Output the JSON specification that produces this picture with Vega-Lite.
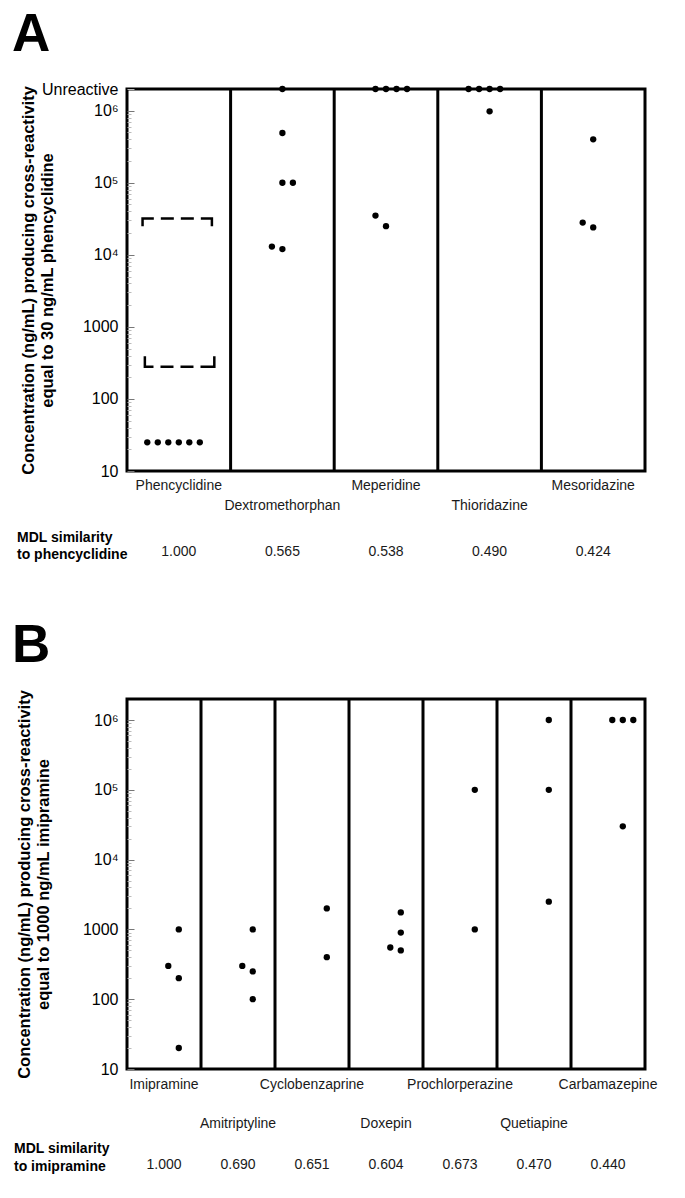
{
  "$schema": "https://vega.github.io/schema/vega-lite/v6.json",
  "padding": {"left": 10, "top": 7, "right": 10, "bottom": 5},
  "config": {
    "font": "Liberation Sans",
    "view": {"stroke": "black", "strokeWidth": 3},
    "concat": {"spacing": 54}
  },
  "datasets": {
    "drugsA": [
      {"drug": "Phencyclidine", "idx": 0, "mdl": 1.000},
      {"drug": "Dextromethorphan", "idx": 1, "mdl": 0.565},
      {"drug": "Meperidine", "idx": 2, "mdl": 0.538},
      {"drug": "Thioridazine", "idx": 3, "mdl": 0.490},
      {"drug": "Mesoridazine", "idx": 4, "mdl": 0.424}
    ],
    "drugsB": [
      {"drug": "Imipramine", "idx": 0, "mdl": 1.000},
      {"drug": "Amitriptyline", "idx": 1, "mdl": 0.690},
      {"drug": "Cyclobenzaprine", "idx": 2, "mdl": 0.651},
      {"drug": "Doxepin", "idx": 3, "mdl": 0.604},
      {"drug": "Prochlorperazine", "idx": 4, "mdl": 0.673},
      {"drug": "Quetiapine", "idx": 5, "mdl": 0.470},
      {"drug": "Carbamazepine", "idx": 6, "mdl": 0.440}
    ],
    "pointsA": [
      {"drug": "Phencyclidine", "slot": -3, "value": 25},
      {"drug": "Phencyclidine", "slot": -2, "value": 25},
      {"drug": "Phencyclidine", "slot": -1, "value": 25},
      {"drug": "Phencyclidine", "slot": 0, "value": 25},
      {"drug": "Phencyclidine", "slot": 1, "value": 25},
      {"drug": "Phencyclidine", "slot": 2, "value": 25},
      {"drug": "Dextromethorphan", "slot": 0, "value": 2000000},
      {"drug": "Dextromethorphan", "slot": 0, "value": 490000},
      {"drug": "Dextromethorphan", "slot": 0, "value": 100000},
      {"drug": "Dextromethorphan", "slot": 1, "value": 100000},
      {"drug": "Dextromethorphan", "slot": -1, "value": 13000},
      {"drug": "Dextromethorphan", "slot": 0, "value": 12000},
      {"drug": "Meperidine", "slot": -1, "value": 2000000},
      {"drug": "Meperidine", "slot": 0, "value": 2000000},
      {"drug": "Meperidine", "slot": 1, "value": 2000000},
      {"drug": "Meperidine", "slot": 2, "value": 2000000},
      {"drug": "Meperidine", "slot": -1, "value": 35000},
      {"drug": "Meperidine", "slot": 0, "value": 25000},
      {"drug": "Thioridazine", "slot": -2, "value": 2000000},
      {"drug": "Thioridazine", "slot": -1, "value": 2000000},
      {"drug": "Thioridazine", "slot": 0, "value": 2000000},
      {"drug": "Thioridazine", "slot": 1, "value": 2000000},
      {"drug": "Thioridazine", "slot": 0, "value": 980000},
      {"drug": "Mesoridazine", "slot": 0, "value": 400000},
      {"drug": "Mesoridazine", "slot": -1, "value": 28000},
      {"drug": "Mesoridazine", "slot": 0, "value": 24000}
    ],
    "bracket": [
      {"drug": "Phencyclidine", "part": "upper", "k": 1, "slot": -3.45, "value": 25000},
      {"drug": "Phencyclidine", "part": "upper", "k": 2, "slot": -3.45, "value": 32000},
      {"drug": "Phencyclidine", "part": "upper", "k": 3, "slot": 3.15, "value": 32000},
      {"drug": "Phencyclidine", "part": "upper", "k": 4, "slot": 3.15, "value": 25000},
      {"drug": "Phencyclidine", "part": "lower", "k": 1, "slot": -3.23, "value": 390},
      {"drug": "Phencyclidine", "part": "lower", "k": 2, "slot": -3.23, "value": 280},
      {"drug": "Phencyclidine", "part": "lower", "k": 3, "slot": 3.38, "value": 280},
      {"drug": "Phencyclidine", "part": "lower", "k": 4, "slot": 3.38, "value": 390}
    ],
    "pointsB": [
      {"drug": "Imipramine", "slot": 0, "value": 1000},
      {"drug": "Imipramine", "slot": -1, "value": 300},
      {"drug": "Imipramine", "slot": 0, "value": 200},
      {"drug": "Imipramine", "slot": 0, "value": 20},
      {"drug": "Amitriptyline", "slot": 0, "value": 1000},
      {"drug": "Amitriptyline", "slot": -1, "value": 300},
      {"drug": "Amitriptyline", "slot": 0, "value": 250},
      {"drug": "Amitriptyline", "slot": 0, "value": 100},
      {"drug": "Cyclobenzaprine", "slot": 0, "value": 2000},
      {"drug": "Cyclobenzaprine", "slot": 0, "value": 400},
      {"drug": "Doxepin", "slot": 0, "value": 1750},
      {"drug": "Doxepin", "slot": 0, "value": 900},
      {"drug": "Doxepin", "slot": -1, "value": 550},
      {"drug": "Doxepin", "slot": 0, "value": 500},
      {"drug": "Prochlorperazine", "slot": 0, "value": 100000},
      {"drug": "Prochlorperazine", "slot": 0, "value": 1000},
      {"drug": "Quetiapine", "slot": 0, "value": 1000000},
      {"drug": "Quetiapine", "slot": 0, "value": 100000},
      {"drug": "Quetiapine", "slot": 0, "value": 2500},
      {"drug": "Carbamazepine", "slot": -1, "value": 1000000},
      {"drug": "Carbamazepine", "slot": 0, "value": 1000000},
      {"drug": "Carbamazepine", "slot": 1, "value": 1000000},
      {"drug": "Carbamazepine", "slot": 0, "value": 30000}
    ]
  },
  "vconcat": [
    {
      "title": {"text": "A", "anchor": "start", "frame": "group", "fontSize": 53, "fontWeight": "bold", "dx": -115, "offset": 19, "color": "black"},
      "width": 518,
      "height": 382,
      "layer": [
        {
          "data": {"name": "drugsA"},
          "transform": [{"filter": "datum.idx > 0"}],
          "mark": {"type": "rule", "strokeWidth": 3, "color": "black"},
          "encoding": {
            "x": {"field": "drug", "type": "nominal", "bandPosition": 0, "scale": {"type": "band", "domain": ["Phencyclidine", "Dextromethorphan", "Meperidine", "Thioridazine", "Mesoridazine"], "paddingInner": 0, "paddingOuter": 0}, "axis": null}
          }
        },
        {
          "data": {"name": "pointsA"},
          "mark": {"type": "circle", "size": 40, "color": "black", "opacity": 1},
          "encoding": {
            "x": {"field": "drug", "type": "nominal", "scale": {"type": "band", "domain": ["Phencyclidine", "Dextromethorphan", "Meperidine", "Thioridazine", "Mesoridazine"], "paddingInner": 0, "paddingOuter": 0}, "axis": null},
            "xOffset": {"field": "slot", "type": "quantitative", "scale": {"domain": [-4.93, 4.93], "nice": false, "zero": false}},
            "y": {
              "field": "value", "type": "quantitative",
              "scale": {"type": "log", "domain": [10, 2000000], "nice": false},
              "axis": {
                "title": ["Concentration (ng/mL) producing cross-reactivity", "equal to 30 ng/mL phencyclidine"],
                "titleFontSize": 16.5, "titleFontWeight": "bold", "titleLineHeight": 19, "titleColor": "black",
                "titleX": -107, "titleY": 191, "titleBaseline": "top", "titleAngle": -90, "titleAlign": "center",
                "values": [10, 20, 30, 40, 50, 60, 70, 80, 90, 100, 200, 300, 400, 500, 600, 700, 800, 900, 1000, 2000, 3000, 4000, 5000, 6000, 7000, 8000, 9000, 10000, 20000, 30000, 40000, 50000, 60000, 70000, 80000, 90000, 100000, 200000, 300000, 400000, 500000, 600000, 700000, 800000, 900000, 1000000, 2000000],
                "labelExpr": "datum.value == 2000000 ? 'Unreactive' : datum.value == 1000000 ? '10⁶' : datum.value == 100000 ? '10⁵' : datum.value == 10000 ? '10⁴' : datum.value == 1000 ? '1000' : datum.value == 100 ? '100' : datum.value == 10 ? '10' : ''",
                "labelFontSize": 16, "labelColor": "black", "labelPadding": 16, "labelOverlap": false, "labelFlush": false,
                "tickSize": {"condition": {"test": "indexof([10,100,1000,10000,100000,1000000,2000000], datum.value) >= 0", "value": -7}, "value": -4},
                "tickColor": {"condition": {"test": "indexof([10,100,1000,10000,100000,1000000], datum.value) >= 0", "value": "#777"}, "value": "#bbb"},
                "domain": false, "grid": false
              }
            }
          }
        },
        {
          "data": {"name": "bracket"},
          "mark": {"type": "line", "strokeDash": [19, 7, 13, 7, 13, 7, 30], "strokeWidth": 2.5, "color": "black"},
          "encoding": {
            "x": {"field": "drug", "type": "nominal", "scale": {"type": "band", "domain": ["Phencyclidine", "Dextromethorphan", "Meperidine", "Thioridazine", "Mesoridazine"], "paddingInner": 0, "paddingOuter": 0}, "axis": null},
            "xOffset": {"field": "slot", "type": "quantitative", "scale": {"domain": [-4.93, 4.93], "nice": false, "zero": false}},
            "y": {"field": "value", "type": "quantitative", "scale": {"type": "log", "domain": [10, 2000000], "nice": false}},
            "detail": {"field": "part"},
            "order": {"field": "k"}
          }
        },
        {
          "data": {"name": "drugsA"},
          "transform": [{"filter": "datum.idx % 2 == 0"}],
          "mark": {"type": "text", "fontSize": 14, "dy": 15, "baseline": "middle", "color": "#1a1a1a"},
          "encoding": {
            "x": {"field": "drug", "type": "nominal", "scale": {"type": "band", "domain": ["Phencyclidine", "Dextromethorphan", "Meperidine", "Thioridazine", "Mesoridazine"], "paddingInner": 0, "paddingOuter": 0}, "axis": null},
            "y": {"value": "height"},
            "text": {"field": "drug"}
          }
        },
        {
          "data": {"name": "drugsA"},
          "transform": [{"filter": "datum.idx % 2 == 1"}],
          "mark": {"type": "text", "fontSize": 14, "dy": 35, "baseline": "middle", "color": "#1a1a1a"},
          "encoding": {
            "x": {"field": "drug", "type": "nominal", "scale": {"type": "band", "domain": ["Phencyclidine", "Dextromethorphan", "Meperidine", "Thioridazine", "Mesoridazine"], "paddingInner": 0, "paddingOuter": 0}, "axis": null},
            "y": {"value": "height"},
            "text": {"field": "drug"}
          }
        },
        {
          "data": {"name": "drugsA"},
          "mark": {"type": "text", "fontSize": 14, "dy": 81, "baseline": "middle", "color": "#1a1a1a"},
          "encoding": {
            "x": {"field": "drug", "type": "nominal", "scale": {"type": "band", "domain": ["Phencyclidine", "Dextromethorphan", "Meperidine", "Thioridazine", "Mesoridazine"], "paddingInner": 0, "paddingOuter": 0}, "axis": null},
            "y": {"value": "height"},
            "text": {"field": "mdl", "type": "quantitative", "format": ".3f"}
          }
        },
        {
          "data": {"values": [{}]},
          "mark": {"type": "text", "text": ["MDL similarity", "to phencyclidine"], "align": "left", "baseline": "middle", "fontWeight": "bold", "fontSize": 14, "lineHeight": 17, "dx": -110, "dy": 67, "color": "black"},
          "encoding": {"x": {"value": 0}, "y": {"value": "height"}}
        }
      ]
    },
    {
      "title": {"text": "B", "anchor": "start", "frame": "group", "fontSize": 53, "fontWeight": "bold", "dx": -115, "offset": 17, "color": "black"},
      "width": 518,
      "height": 370,
      "layer": [
        {
          "data": {"name": "drugsB"},
          "transform": [{"filter": "datum.idx > 0"}],
          "mark": {"type": "rule", "strokeWidth": 3, "color": "black"},
          "encoding": {
            "x": {"field": "drug", "type": "nominal", "bandPosition": 0, "scale": {"type": "band", "domain": ["Imipramine", "Amitriptyline", "Cyclobenzaprine", "Doxepin", "Prochlorperazine", "Quetiapine", "Carbamazepine"], "paddingInner": 0, "paddingOuter": 0}, "axis": null}
          }
        },
        {
          "data": {"name": "pointsB"},
          "mark": {"type": "circle", "size": 40, "color": "black", "opacity": 1},
          "encoding": {
            "x": {"field": "drug", "type": "nominal", "scale": {"type": "band", "domain": ["Imipramine", "Amitriptyline", "Cyclobenzaprine", "Doxepin", "Prochlorperazine", "Quetiapine", "Carbamazepine"], "paddingInner": 0, "paddingOuter": 0}, "axis": null},
            "xOffset": {"field": "slot", "type": "quantitative", "scale": {"domain": [-3.37, 3.37], "nice": false, "zero": false}},
            "y": {
              "field": "value", "type": "quantitative",
              "scale": {"type": "log", "domain": [10, 2000000], "nice": false},
              "axis": {
                "title": ["Concentration (ng/mL) producing cross-reactivity", "equal to 1000 ng/mL imipramine"],
                "titleFontSize": 16.5, "titleFontWeight": "bold", "titleLineHeight": 19, "titleColor": "black",
                "titleX": -111, "titleY": 185, "titleBaseline": "top", "titleAngle": -90, "titleAlign": "center",
                "values": [10, 20, 30, 40, 50, 60, 70, 80, 90, 100, 200, 300, 400, 500, 600, 700, 800, 900, 1000, 2000, 3000, 4000, 5000, 6000, 7000, 8000, 9000, 10000, 20000, 30000, 40000, 50000, 60000, 70000, 80000, 90000, 100000, 200000, 300000, 400000, 500000, 600000, 700000, 800000, 900000, 1000000],
                "labelExpr": "datum.value == 1000000 ? '10⁶' : datum.value == 100000 ? '10⁵' : datum.value == 10000 ? '10⁴' : datum.value == 1000 ? '1000' : datum.value == 100 ? '100' : datum.value == 10 ? '10' : ''",
                "labelFontSize": 16, "labelColor": "black", "labelPadding": 16, "labelOverlap": false, "labelFlush": false,
                "tickSize": {"condition": {"test": "indexof([10,100,1000,10000,100000,1000000], datum.value) >= 0", "value": -7}, "value": -4},
                "tickColor": {"condition": {"test": "indexof([10,100,1000,10000,100000,1000000], datum.value) >= 0", "value": "#777"}, "value": "#bbb"},
                "domain": false, "grid": false
              }
            }
          }
        },
        {
          "data": {"name": "drugsB"},
          "transform": [{"filter": "datum.idx % 2 == 0"}],
          "mark": {"type": "text", "fontSize": 14, "dy": 16, "baseline": "middle", "color": "#1a1a1a"},
          "encoding": {
            "x": {"field": "drug", "type": "nominal", "scale": {"type": "band", "domain": ["Imipramine", "Amitriptyline", "Cyclobenzaprine", "Doxepin", "Prochlorperazine", "Quetiapine", "Carbamazepine"], "paddingInner": 0, "paddingOuter": 0}, "axis": null},
            "y": {"value": "height"},
            "text": {"field": "drug"}
          }
        },
        {
          "data": {"name": "drugsB"},
          "transform": [{"filter": "datum.idx % 2 == 1"}],
          "mark": {"type": "text", "fontSize": 14, "dy": 55, "baseline": "middle", "color": "#1a1a1a"},
          "encoding": {
            "x": {"field": "drug", "type": "nominal", "scale": {"type": "band", "domain": ["Imipramine", "Amitriptyline", "Cyclobenzaprine", "Doxepin", "Prochlorperazine", "Quetiapine", "Carbamazepine"], "paddingInner": 0, "paddingOuter": 0}, "axis": null},
            "y": {"value": "height"},
            "text": {"field": "drug"}
          }
        },
        {
          "data": {"name": "drugsB"},
          "mark": {"type": "text", "fontSize": 14, "dy": 96, "baseline": "middle", "color": "#1a1a1a"},
          "encoding": {
            "x": {"field": "drug", "type": "nominal", "scale": {"type": "band", "domain": ["Imipramine", "Amitriptyline", "Cyclobenzaprine", "Doxepin", "Prochlorperazine", "Quetiapine", "Carbamazepine"], "paddingInner": 0, "paddingOuter": 0}, "axis": null},
            "y": {"value": "height"},
            "text": {"field": "mdl", "type": "quantitative", "format": ".3f"}
          }
        },
        {
          "data": {"values": [{}]},
          "mark": {"type": "text", "text": ["MDL similarity", "to imipramine"], "align": "left", "baseline": "middle", "fontWeight": "bold", "fontSize": 14, "lineHeight": 17.5, "dx": -113, "dy": 80, "color": "black"},
          "encoding": {"x": {"value": 0}, "y": {"value": "height"}}
        }
      ]
    }
  ]
}
